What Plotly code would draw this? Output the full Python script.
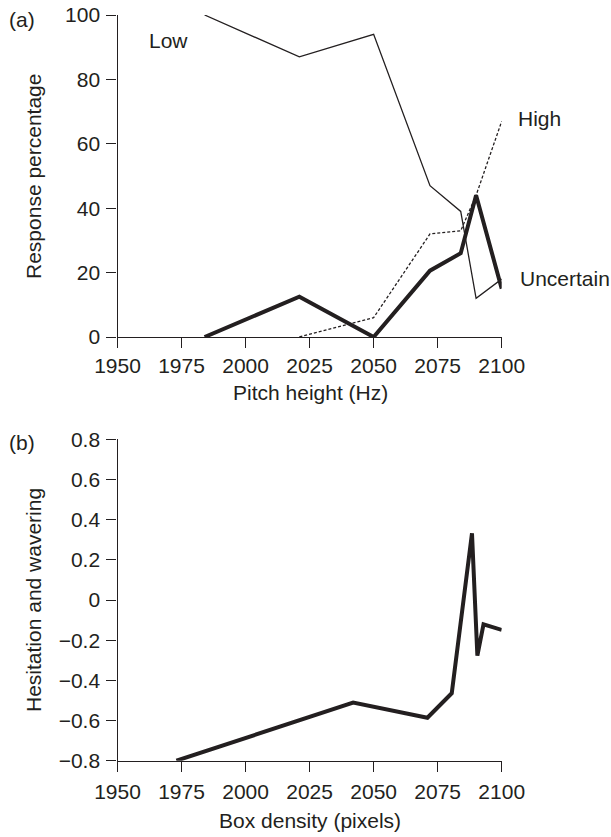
import plotly.graph_objects as go

# Panel (a): response percentages against pitch height
pitch_hz = [1984, 2021, 2050, 2072, 2084, 2090, 2100]
low_pct = [100, 87, 94, 47, 39, 12, 18]
high_pct = [None, 0, 6, 32, 33, 44, 67]
uncertain_pct = [0, 12.5, 0, 20.6, 26, 44, 15]

# Panel (b): hesitation and wavering against box density
box_density = [1973, 2042, 2071, 2080.5, 2088.4, 2090.5, 2092.9, 2100]
hesitation = [-0.80, -0.511, -0.586, -0.464, 0.332, -0.277, -0.121, -0.149]

x_ticks = [1950, 1975, 2000, 2025, 2050, 2075, 2100]
y_ticks_a = [0, 20, 40, 60, 80, 100]
y_ticks_b = [-0.8, -0.6, -0.4, -0.2, 0, 0.2, 0.4, 0.6, 0.8]
y_ticktext_b = ["\u22120.8", "\u22120.6", "\u22120.4", "\u22120.2", "0", "0.2", "0.4", "0.6", "0.8"]

W, H = 611, 837
INK = "#231f20"
FONT = "Liberation Sans, Arial, Helvetica, sans-serif"
FS = 21


def px(x):
    return x / W


def py(y):
    return 1 - y / H


fig = go.Figure()

fig.add_trace(go.Scatter(x=pitch_hz, y=low_pct, mode="lines",
                         line=dict(color=INK, width=1.3), xaxis="x", yaxis="y"))
fig.add_trace(go.Scatter(x=pitch_hz, y=high_pct, mode="lines",
                         line=dict(color=INK, width=1.3, dash="3px,2px"),
                         xaxis="x", yaxis="y", connectgaps=False))
fig.add_trace(go.Scatter(x=pitch_hz, y=uncertain_pct, mode="lines",
                         line=dict(color=INK, width=4), xaxis="x", yaxis="y"))
fig.add_trace(go.Scatter(x=box_density, y=hesitation, mode="lines",
                         line=dict(color=INK, width=4), xaxis="x2", yaxis="y2"))

axis_common = dict(
    showline=True, linecolor=INK, linewidth=1.3,
    ticks="outside", ticklen=10, tickwidth=1.3, tickcolor=INK,
    showgrid=False, zeroline=False, automargin=False,
    tickfont=dict(family=FONT, size=FS, color=INK),
)

x_dom = [px(117.5), px(501.7)]

fig.update_layout(
    width=W, height=H,
    margin=dict(l=0, r=0, t=0, b=0, autoexpand=False),
    paper_bgcolor="white", plot_bgcolor="white",
    showlegend=False,
    xaxis=dict(domain=x_dom, range=[1950, 2100], tickvals=x_ticks,
               anchor="y", **axis_common),
    yaxis=dict(domain=[py(337), py(15)], range=[0, 100], tickvals=y_ticks_a,
               anchor="x", ticklabelstandoff=2, **axis_common),
    xaxis2=dict(domain=x_dom, range=[1950, 2100], tickvals=x_ticks,
                anchor="y2", ticklabelstandoff=2, **axis_common),
    yaxis2=dict(domain=[py(760.7), py(439.3)], range=[-0.8, 0.8],
                tickvals=y_ticks_b, ticktext=y_ticktext_b,
                anchor="x2", ticklabelstandoff=2, **axis_common),
)

labels = [
    ("(a)", 22, 20, 0),
    ("Low", 168, 41, 0),
    ("High", 539, 118, 0),
    ("Uncertain", 565, 279, 0),
    ("Response percentage", 33, 177, -90),
    ("Pitch height (Hz)", 310, 392, 0),
    ("(b)", 22, 443, 0),
    ("Hesitation and wavering", 33, 600, -90),
    ("Box density (pixels)", 310, 820, 0),
]
for text, x, y, ang in labels:
    fig.add_annotation(text=text, x=px(x), y=py(y), xref="paper", yref="paper",
                       showarrow=False, textangle=ang,
                       xanchor="center", yanchor="middle",
                       font=dict(family=FONT, size=FS, color=INK))

fig.write_html("out.html")
